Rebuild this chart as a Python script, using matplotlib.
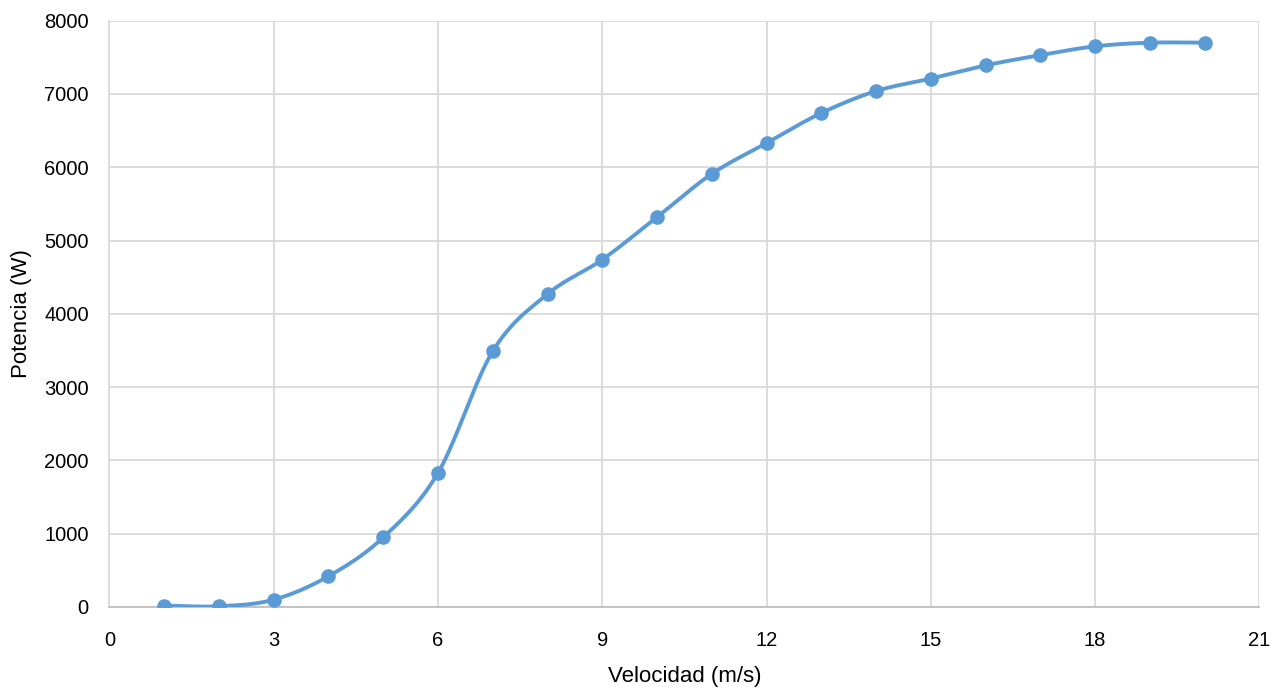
import numpy as np
import matplotlib
matplotlib.use("Agg")
import matplotlib.pyplot as plt

# Wind turbine power curve
velocidad = [1, 2, 3, 4, 5, 6, 7, 8, 9, 10, 11, 12, 13, 14, 15, 16, 17, 18, 19, 20]
potencia = [20, 10, 100, 420, 950, 1830, 3490, 4270, 4740, 5320,
            5910, 6330, 6740, 7040, 7210, 7390, 7530, 7650, 7700, 7700]

xTicks = [0, 3, 6, 9, 12, 15, 18, 21]
yTicks = [0, 1000, 2000, 3000, 4000, 5000, 6000, 7000, 8000]

################################################################################

def smoothCurve(xs, ys, steps=30):
    """Catmull-Rom style smoothing, similar to Excel's smoothed line."""
    x = np.array(xs, dtype=float)
    y = np.array(ys, dtype=float)
    px = np.concatenate([[x[0]], x, [x[-1]]])
    py = np.concatenate([[y[0]], y, [y[-1]]])
    outX = []
    outY = []
    t = np.linspace(0, 1, steps)
    for i in range(1, len(px) - 2):
        # bezier control points
        c1x = px[i] + (px[i + 1] - px[i - 1]) / 6
        c1y = py[i] + (py[i + 1] - py[i - 1]) / 6
        c2x = px[i + 1] - (px[i + 2] - px[i]) / 6
        c2y = py[i + 1] - (py[i + 2] - py[i]) / 6
        bx = ((1 - t) ** 3) * px[i] + 3 * ((1 - t) ** 2) * t * c1x + 3 * (1 - t) * t ** 2 * c2x + t ** 3 * px[i + 1]
        by = ((1 - t) ** 3) * py[i] + 3 * ((1 - t) ** 2) * t * c1y + 3 * (1 - t) * t ** 2 * c2y + t ** 3 * py[i + 1]
        outX += list(bx)
        outY += list(by)
    return outX, outY

################################################################################

plt.rcParams['font.family'] = ['Liberation Sans', 'DejaVu Sans']

fig = plt.figure(figsize=(12.85, 6.9), dpi=100)
ax = fig.add_axes([0.0852, 0.1203, 0.980 - 0.0852, 0.970 - 0.1203])

lineColor = '#5B9BD5'
sx, sy = smoothCurve(velocidad, potencia)
ax.plot(sx, sy, color=lineColor, linewidth=2.8, solid_capstyle='round', zorder=3)
ax.plot(velocidad, potencia, 'o', color=lineColor, markersize=9.5, zorder=4)

ax.set_xlim(0, 21)
ax.set_ylim(0, 8000)
ax.set_xticks(xTicks)
ax.set_yticks(yTicks)
ax.grid(True, color='#d9d9d9', linewidth=1.3)
ax.set_axisbelow(True)

for side in ['top', 'right']:
    ax.spines[side].set_visible(False)
ax.spines['left'].set_color('#d9d9d9')
ax.spines['left'].set_linewidth(1.3)
ax.spines['bottom'].set_color('#bfbfbf')
ax.spines['bottom'].set_linewidth(1.3)

ax.tick_params(length=0, labelsize=14.5)
ax.tick_params(axis='y', pad=15)
ax.tick_params(axis='x', pad=17)
ax.set_xlabel("Velocidad (m/s)", fontsize=16, labelpad=12)
ax.set_ylabel("Potencia (W)", fontsize=16, labelpad=9)

fig.savefig("out.png", dpi=100)
